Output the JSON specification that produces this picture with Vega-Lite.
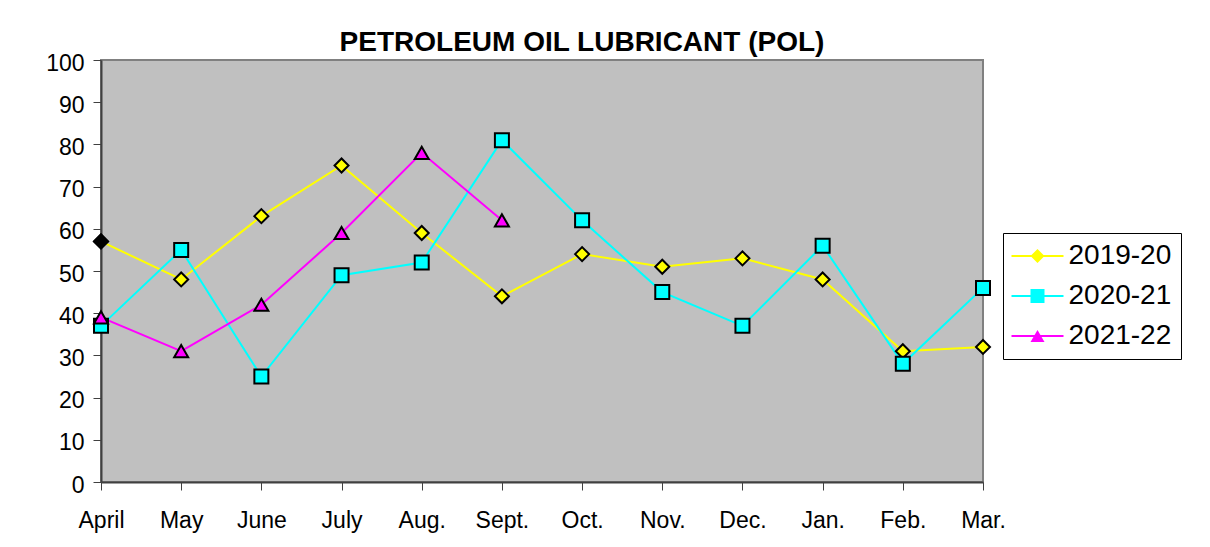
{
  "$schema": "https://vega.github.io/schema/vega-lite/v6.json",
  "width": 882,
  "height": 422,
  "autosize": {"type": "none"},
  "padding": {"left": 101, "top": 60, "right": 227, "bottom": 65},
  "background": "white",
  "title": {
    "text": "PETROLEUM OIL LUBRICANT (POL)",
    "font": "Liberation Sans",
    "fontSize": 28,
    "fontWeight": "bold",
    "color": "black",
    "anchor": "middle",
    "dx": 40,
    "offset": -5
  },
  "data": {
    "values": [
      {"month": "April", "series": "2019-20", "value": 57},
      {"month": "May", "series": "2019-20", "value": 48},
      {"month": "June", "series": "2019-20", "value": 63},
      {"month": "July", "series": "2019-20", "value": 75},
      {"month": "Aug.", "series": "2019-20", "value": 59},
      {"month": "Sept.", "series": "2019-20", "value": 44},
      {"month": "Oct.", "series": "2019-20", "value": 54},
      {"month": "Nov.", "series": "2019-20", "value": 51},
      {"month": "Dec.", "series": "2019-20", "value": 53},
      {"month": "Jan.", "series": "2019-20", "value": 48},
      {"month": "Feb.", "series": "2019-20", "value": 31},
      {"month": "Mar.", "series": "2019-20", "value": 32},
      {"month": "April", "series": "2020-21", "value": 37},
      {"month": "May", "series": "2020-21", "value": 55},
      {"month": "June", "series": "2020-21", "value": 25},
      {"month": "July", "series": "2020-21", "value": 49},
      {"month": "Aug.", "series": "2020-21", "value": 52},
      {"month": "Sept.", "series": "2020-21", "value": 81},
      {"month": "Oct.", "series": "2020-21", "value": 62},
      {"month": "Nov.", "series": "2020-21", "value": 45},
      {"month": "Dec.", "series": "2020-21", "value": 37},
      {"month": "Jan.", "series": "2020-21", "value": 56},
      {"month": "Feb.", "series": "2020-21", "value": 28},
      {"month": "Mar.", "series": "2020-21", "value": 46},
      {"month": "April", "series": "2021-22", "value": 39},
      {"month": "May", "series": "2021-22", "value": 31},
      {"month": "June", "series": "2021-22", "value": 42},
      {"month": "July", "series": "2021-22", "value": 59},
      {"month": "Aug.", "series": "2021-22", "value": 78},
      {"month": "Sept.", "series": "2021-22", "value": 62}
    ]
  },
  "config": {
    "font": "Liberation Sans",
    "view": {"fill": "#C0C0C0", "stroke": "#808080", "strokeWidth": 2},
    "axis": {
      "labelFont": "Liberation Sans",
      "labelFontSize": 23,
      "labelColor": "black",
      "domainColor": "#404040",
      "domainWidth": 2,
      "tickColor": "#404040",
      "tickWidth": 1,
      "tickSize": 8,
      "grid": false,
      "title": null
    },
    "legend": {
      "labelFont": "Liberation Sans",
      "labelFontSize": 28,
      "labelColor": "black",
      "symbolSize": 196,
      "symbolStrokeColor": "black",
      "symbolStrokeWidth": 2
    }
  },
  "encoding": {
    "x": {
      "field": "month",
      "type": "ordinal",
      "sort": ["April", "May", "June", "July", "Aug.", "Sept.", "Oct.", "Nov.", "Dec.", "Jan.", "Feb.", "Mar."],
      "scale": {"type": "point", "padding": 0},
      "axis": {"labelAngle": 0, "labelBaseline": "alphabetic", "labelPadding": 37}
    },
    "y": {
      "field": "value",
      "type": "quantitative",
      "scale": {"domain": [0, 100], "nice": false},
      "axis": {"values": [0, 10, 20, 30, 40, 50, 60, 70, 80, 90, 100], "labelPadding": 9, "labelOffset": 3}
    }
  },
  "layer": [
    {
      "mark": {"type": "line", "strokeWidth": 2},
      "encoding": {
        "stroke": {
          "field": "series",
          "type": "nominal",
          "scale": {"domain": ["2019-20", "2020-21", "2021-22"], "range": ["#FFFF00", "#00FFFF", "#FF00FF"]},
          "legend": {
            "orient": "none",
            "legendX": 902,
            "legendY": 173,
            "title": null,
            "padding": 9,
            "strokeColor": "black",
            "symbolType": "M-2,0H2",
            "symbolSize": 676,
            "symbolStrokeWidth": 2,
            "symbolOffset": 11.5,
            "labelOffset": 17,
            "rowPadding": 12
          }
        }
      }
    },
    {
      "mark": {"type": "point", "filled": true, "stroke": "black", "strokeWidth": 2, "size": 196, "opacity": 1},
      "encoding": {
        "shape": {
          "field": "series",
          "type": "nominal",
          "scale": {"domain": ["2019-20", "2020-21", "2021-22"], "range": ["diamond", "square", "triangle-up"]},
          "legend": {
            "orient": "none",
            "legendX": 902,
            "legendY": 173,
            "title": null,
            "padding": 9,
            "symbolSize": 196,
            "symbolStrokeColor": "black",
            "symbolStrokeWidth": 2,
            "symbolOffset": 11.5,
            "labelOffset": 17,
            "rowPadding": 12,
            "labelOpacity": 0
          }
        },
        "fill": {
          "field": "series",
          "type": "nominal",
          "scale": {"domain": ["2019-20", "2020-21", "2021-22"], "range": ["#FFFF00", "#00FFFF", "#FF00FF"]},
          "legend": {
            "orient": "none",
            "legendX": 902,
            "legendY": 173,
            "title": null,
            "padding": 9,
            "symbolSize": 196,
            "symbolStrokeColor": "black",
            "symbolStrokeWidth": 2,
            "symbolOffset": 11.5,
            "labelOffset": 17,
            "rowPadding": 12,
            "labelOpacity": 0
          }
        }
      }
    },
    {
      "transform": [{"filter": "datum.month === 'April' && datum.series === '2019-20'"}],
      "mark": {"type": "point", "shape": "diamond", "filled": true, "fill": "black", "stroke": "black", "strokeWidth": 2, "size": 196, "opacity": 1},
      "encoding": {}
    }
  ],
  "resolve": {"legend": {"stroke": "independent", "fill": "independent", "shape": "independent"}}
}
